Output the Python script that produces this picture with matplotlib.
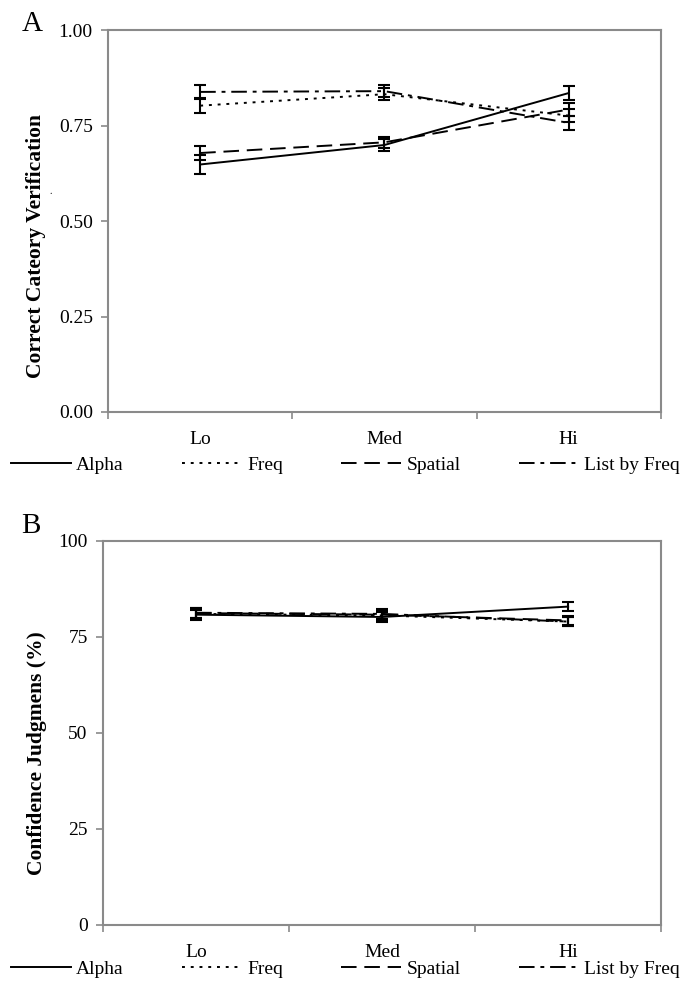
import matplotlib
matplotlib.use('Agg')
import numpy as np
from matplotlib import pyplot as plt
from matplotlib.lines import Line2D

plt.rcParams['font.family'] = ['Liberation Serif', 'DejaVu Serif']
plt.rcParams['font.size'] = 14

# 数据
levels = ['Lo', 'Med', 'Hi']
series_names = ['Alpha', 'Freq', 'Spatial', 'List by Freq']

# A: Correct category verification
acc_alpha = [0.648, 0.699, 0.835]
acc_freq = [0.802, 0.832, 0.776]
acc_spatial = [0.678, 0.706, 0.792]
acc_list = [0.838, 0.840, 0.757]
acc_alpha_err = [0.024, 0.015, 0.018]
acc_freq_err = [0.019, 0.015, 0.018]
acc_spatial_err = [0.018, 0.015, 0.018]
acc_list_err = [0.019, 0.015, 0.018]

# B: Confidence judgments
conf_alpha = [80.8, 80.2, 82.9]
conf_freq = [81.0, 80.6, 79.0]
conf_spatial = [81.2, 80.8, 79.3]
conf_list = [81.3, 81.0, 79.0]
conf_alpha_err = [1.3, 1.3, 1.2]
conf_freq_err = [1.3, 1.3, 1.2]
conf_spatial_err = [1.3, 1.3, 1.2]
conf_list_err = [1.3, 1.3, 1.2]

styles = ['-', (0, (1.5, 3)), (0, (8, 4)), (0, (8, 3, 2, 3))]
spine_gray = '#8a8a8a'


def setup_axes(ax, ymax, yticks, fmt):
    x = np.arange(1, len(levels) + 1)
    ax.set_xlim(0.5, len(levels) + 0.5)
    ax.set_ylim(0, ymax)
    ax.set_yticks(yticks)
    ax.set_yticklabels([fmt.format(v) for v in yticks])
    ax.set_xticks(x)
    ax.set_xticklabels(levels)
    ax.set_xticks(np.arange(0.5, len(levels) + 1, 1), minor=True)
    ax.tick_params(axis='x', which='major', length=0, pad=14)
    ax.tick_params(axis='x', which='minor', length=5, color=spine_gray, width=1.2, direction='out')
    ax.tick_params(axis='y', length=5, color=spine_gray, width=1.2, direction='out', pad=6)
    for s in ax.spines.values():
        s.set_color(spine_gray)
        s.set_linewidth(1.5)
    return x


def draw_series(ax, x, values, errors):
    for vals, errs, ls in zip(values, errors, styles):
        ax.errorbar(x, vals, yerr=errs, color='black', linestyle=ls, linewidth=1.4,
                    elinewidth=1.5, capsize=4.5, capthick=1.5)


def add_legend(fig, y):
    handles = [Line2D([], [], color='black', linestyle=ls, linewidth=1.4) for ls in styles]
    fig.legend(handles, series_names, loc='center left', bbox_to_anchor=(0.01, y),
               ncol=4, frameon=False, handlelength=3.1, handletextpad=0.25,
               columnspacing=3.0, borderaxespad=0, borderpad=0.2)


fig = plt.figure(figsize=(6.84, 9.88), dpi=100)

axA = fig.add_axes([0.158, 0.583, 0.808, 0.3866])
x = setup_axes(axA, 1.0, [0, 0.25, 0.5, 0.75, 1.0], '{:.2f}')
draw_series(axA, x, [acc_alpha, acc_freq, acc_spatial, acc_list],
            [acc_alpha_err, acc_freq_err, acc_spatial_err, acc_list_err])
axA.set_ylabel('Correct Cateory Verification', fontweight='bold', fontsize=15.5)
axA.yaxis.set_label_coords(-0.112, 0.435)
fig.text(0.074, 0.806, '.', fontsize=7, ha='center', va='center')
fig.text(0.047, 0.976, 'A', fontsize=21, ha='center', va='center')
add_legend(fig, 0.529)

axB = fig.add_axes([0.1506, 0.0638, 0.816, 0.3887])
x = setup_axes(axB, 100, [0, 25, 50, 75, 100], '{:d}')
draw_series(axB, x, [conf_alpha, conf_freq, conf_spatial, conf_list],
            [conf_alpha_err, conf_freq_err, conf_spatial_err, conf_list_err])
axB.set_ylabel('Confidence Judgmens (%)', fontweight='bold', fontsize=15.5)
axB.yaxis.set_label_coords(-0.100, 0.448)
fig.text(0.045, 0.4676, 'B', fontsize=21, ha='center', va='center')
add_legend(fig, 0.019)

plt.savefig('out.png', dpi=100)
